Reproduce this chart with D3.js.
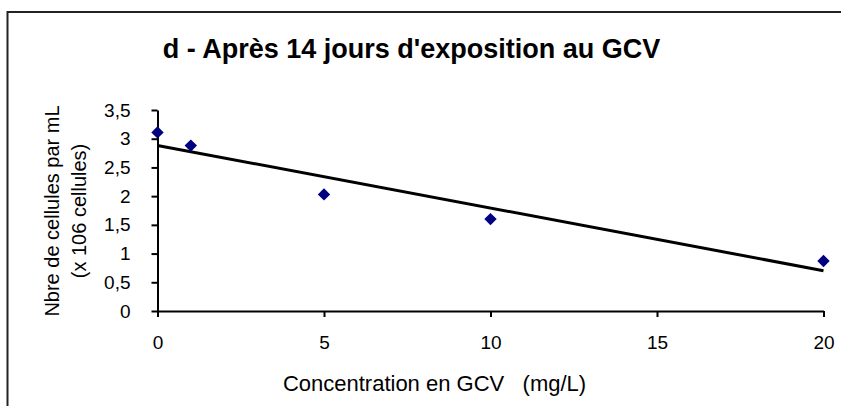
<!DOCTYPE html>
<html>
<head>
<meta charset="utf-8">
<script src="https://cdn.jsdelivr.net/npm/d3@7"></script>
<style>
  html, body { margin: 0; padding: 0; background: #fff; }
  svg { display: block; }
  text { font-family: "Liberation Sans", Arial, sans-serif; fill: #000; }
</style>
</head>
<body>
<svg id="chart" width="841" height="406"></svg>
<script>
// Concentration of GCV (mg/L) and cell counts (x 10^6 cells per mL)
const concentrations = [0, 1, 5, 10, 20];
const cellCounts = [3.11, 2.88, 2.03, 1.60, 0.87];

const xTickValues = [0, 5, 10, 15, 20];
const xTickLabels = ["0", "5", "10", "15", "20"];
const yTickValues = [0, 0.5, 1, 1.5, 2, 2.5, 3, 3.5];
const yTickLabels = ["0", "0,5", "1", "1,5", "2", "2,5", "3", "3,5"];

const titleText = "d - Après 14 jours d'exposition au GCV";
const xLabelText = "Concentration en GCV   (mg/L)";
const yLabelLines = ["Nbre de cellules par mL", "(x 106 cellules)"];

const svg = d3.select("#chart");

// outer chart frame (runs off the right and bottom edges)
svg.append("rect")
  .attr("x", 7.5).attr("y", 12)
  .attr("width", 900).attr("height", 500)
  .attr("fill", "none")
  .attr("stroke", "#222")
  .attr("stroke-width", 2);

const x = d3.scaleLinear().domain([0, 20]).range([157.5, 823.5]);
const y = d3.scaleLinear().domain([0, 3.5]).range([311, 110]);

// axes
const yAxis = d3.axisLeft(y)
  .tickValues(yTickValues)
  .tickFormat((d, i) => yTickLabels[i])
  .tickSize(6).tickSizeOuter(0).tickPadding(21);
const xAxis = d3.axisBottom(x)
  .tickValues(xTickValues)
  .tickFormat((d, i) => xTickLabels[i])
  .tickSize(6).tickSizeOuter(0).tickPadding(19);

const gx = svg.append("g").attr("transform", `translate(0,${y(0)})`).call(xAxis);
const gy = svg.append("g").attr("transform", `translate(${x(0)},0)`).call(yAxis);

[gx, gy].forEach(g => {
  g.selectAll("path.domain").attr("stroke", "#000").attr("stroke-width", 2);
  g.selectAll(".tick line").attr("stroke", "#000").attr("stroke-width", 2);
  g.selectAll(".tick text")
    .attr("font-family", "'Liberation Sans', Arial, sans-serif")
    .attr("font-size", 19).attr("fill", "#000");
});

// least-squares trend line through the measured points
const n = concentrations.length;
const mx = d3.mean(concentrations), my = d3.mean(cellCounts);
let sxy = 0, sxx = 0;
for (let i = 0; i < n; i++) {
  sxy += (concentrations[i] - mx) * (cellCounts[i] - my);
  sxx += (concentrations[i] - mx) ** 2;
}
const slope = sxy / sxx, intercept = my - slope * mx;
const trendX = [0, 20];
svg.append("path")
  .datum(trendX)
  .attr("d", d3.line().x(d => x(d)).y(d => y(intercept + slope * d)))
  .attr("stroke", "#000")
  .attr("stroke-width", 3)
  .attr("fill", "none");

// data markers (navy diamonds)
const diamond = d3.symbol().type(d3.symbolDiamond2).size(98);
svg.append("g").selectAll("path")
  .data(concentrations)
  .join("path")
  .attr("d", diamond)
  .attr("transform", (d, i) => `translate(${x(d)},${y(cellCounts[i])})`)
  .attr("fill", "#000080");

// title
svg.append("text")
  .attr("transform", "translate(411.5,58) scale(0.965,1)")
  .attr("text-anchor", "middle")
  .attr("font-size", 28).attr("font-weight", "bold")
  .text(titleText);

// x axis label
svg.append("text")
  .attr("x", 434.5).attr("y", 391)
  .attr("text-anchor", "middle")
  .attr("font-size", 22)
  .attr("xml:space", "preserve")
  .style("white-space", "pre")
  .text(xLabelText);

// y axis label (two rotated lines)
const yLabelX = [58.5, 86];
svg.append("g").selectAll("text")
  .data(yLabelLines)
  .join("text")
  .attr("transform", (d, i) => `translate(${yLabelX[i]},211) rotate(-90)`)
  .attr("text-anchor", "middle")
  .attr("font-size", 20)
  .text(d => d);
</script>
</body>
</html>
